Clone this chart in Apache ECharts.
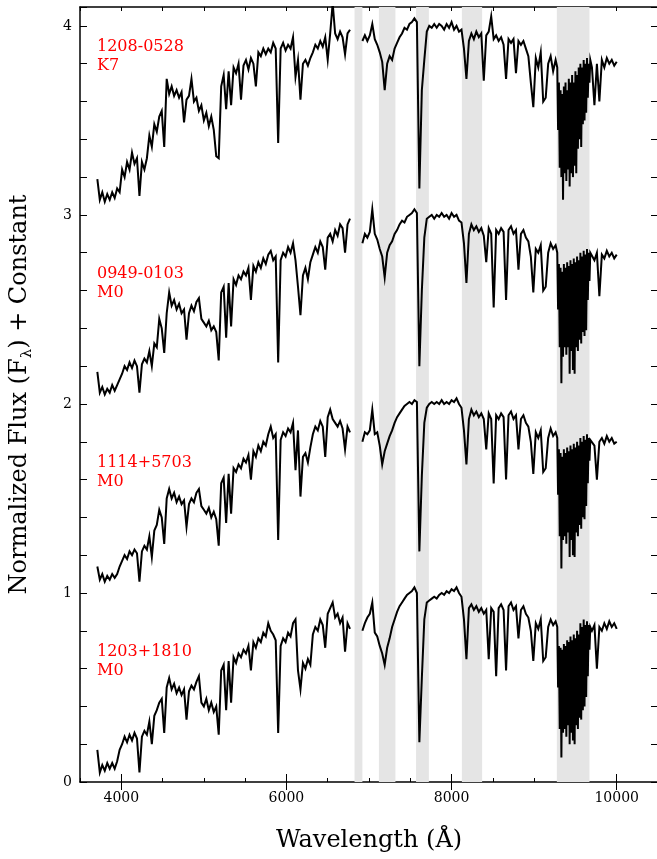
<!DOCTYPE html>
<html>
<head>
<meta charset="utf-8">
<title>Normalized spectra</title>
<script src="https://cdn.jsdelivr.net/npm/echarts@6/dist/echarts.min.js"></script>
<style>
  html, body { margin: 0; padding: 0; background: #fff; overflow: hidden; }
  #chart { width: 657px; height: 859px; }
</style>
</head>
<body>
<div id="chart"></div>
<script>
// wavelength grid (Angstrom), 6840 is the gap between the two arms
const wave = [
  3710, 3740, 3770, 3800, 3830, 3860, 3890, 3920, 3950, 3980,
  4010, 4040, 4070, 4100, 4130, 4160, 4190, 4220, 4250, 4280,
  4310, 4340, 4370, 4400, 4430, 4460, 4490, 4520, 4550, 4580,
  4610, 4640, 4670, 4700, 4730, 4760, 4790, 4820, 4850, 4880,
  4910, 4940, 4970, 5000, 5030, 5060, 5090, 5120, 5150, 5180,
  5210, 5240, 5270, 5300, 5330, 5360, 5390, 5420, 5450, 5480,
  5510, 5540, 5570, 5600, 5630, 5660, 5690, 5720, 5750, 5780,
  5810, 5840, 5870, 5900, 5930, 5960, 5990, 6020, 6050, 6080,
  6110, 6140, 6170, 6200, 6230, 6260, 6290, 6320, 6350, 6380,
  6410, 6440, 6470, 6500, 6530, 6560, 6590, 6620, 6650, 6680,
  6710, 6740, 6770,
  6840,
  6920, 6950, 6980, 7010, 7040, 7070, 7100, 7130, 7160, 7190,
  7220, 7250, 7280, 7310, 7340, 7370, 7400, 7430, 7460, 7490,
  7520, 7550, 7580, 7610, 7640, 7670, 7700, 7730, 7760, 7790,
  7820, 7850, 7880, 7910, 7940, 7970, 8000, 8030, 8060, 8090,
  8120, 8150, 8180, 8210, 8240, 8270, 8300, 8330, 8360, 8390,
  8420, 8450, 8480, 8510, 8540, 8570, 8600, 8630, 8660, 8690,
  8720, 8750, 8780, 8810, 8840, 8870, 8900, 8930, 8960, 8990,
  9020, 9050, 9080, 9110, 9140, 9170, 9200, 9230, 9260,
  9280, 9290, 9300, 9310, 9320, 9330, 9340, 9350, 9360, 9370,
  9380, 9390, 9400, 9410, 9420, 9430, 9440, 9450, 9460, 9470,
  9480, 9490, 9500, 9510, 9520, 9530, 9540, 9550, 9560, 9570,
  9580, 9590, 9600, 9610, 9620, 9630, 9640, 9650, 9660, 9670,
  9680,
  9700, 9730, 9760, 9790, 9820, 9850, 9880, 9910, 9940, 9970, 10000
]

// normalized flux of each star, before the constant is added
const flux1208 = [
  0.19, 0.08, 0.12, 0.07, 0.11, 0.08, 0.12, 0.09, 0.14, 0.12,
  0.24, 0.20, 0.28, 0.24, 0.33, 0.27, 0.30, 0.10, 0.28, 0.24,
  0.30, 0.42, 0.36, 0.48, 0.44, 0.52, 0.55, 0.36, 0.72, 0.64,
  0.68, 0.63, 0.66, 0.62, 0.65, 0.49, 0.61, 0.63, 0.72, 0.60,
  0.62, 0.55, 0.58, 0.50, 0.54, 0.47, 0.52, 0.45, 0.31, 0.30,
  0.68, 0.74, 0.56, 0.76, 0.58, 0.78, 0.75, 0.80, 0.61, 0.79,
  0.82, 0.77, 0.83, 0.80, 0.68, 0.86, 0.84, 0.88, 0.85, 0.88,
  0.86, 0.91, 0.88, 0.38, 0.88, 0.91, 0.87, 0.90, 0.88, 0.94,
  0.73, 0.82, 0.61, 0.80, 0.82, 0.79, 0.83, 0.86, 0.90, 0.88,
  0.92, 0.89, 0.94, 0.82, 0.96, 1.12, 0.96, 0.93, 0.97, 0.94,
  0.85, 0.96, 0.98,
  null,
  0.92, 0.95, 0.92, 0.95, 1.01, 0.93, 0.90, 0.86, 0.81, 0.66,
  0.80, 0.84, 0.82, 0.88, 0.91, 0.94, 0.96, 0.99, 0.98, 1.01,
  1.02, 1.04, 1.02, 0.14, 0.66, 0.82, 0.97, 1.00, 0.99, 1.01,
  0.99, 1.01, 1.00, 0.98, 1.01, 0.99, 1.02, 0.98, 1.00, 0.97,
  0.98, 0.88, 0.72, 0.92, 0.96, 0.93, 0.97, 0.94, 0.96, 0.71,
  0.95, 0.97, 1.05, 0.93, 0.95, 0.92, 0.94, 0.90, 0.72, 0.93,
  0.91, 0.93, 0.75, 0.92, 0.90, 0.92, 0.88, 0.84, 0.70, 0.57,
  0.83, 0.78, 0.86, 0.60, 0.62, 0.80, 0.84, 0.76, 0.82,
  0.78, 0.45, 0.70, 0.25, 0.66, 0.20, 0.64, 0.08, 0.68, 0.22,
  0.70, 0.18, 0.66, 0.24, 0.72, 0.15, 0.70, 0.22, 0.74, 0.20,
  0.70, 0.26, 0.76, 0.22, 0.74, 0.35, 0.78, 0.40, 0.80, 0.36,
  0.78, 0.48, 0.82, 0.50, 0.80, 0.54, 0.83, 0.62, 0.80, 0.70,
  0.82,
  0.78, 0.58, 0.80, 0.60, 0.82, 0.78, 0.83, 0.80, 0.82, 0.79, 0.81
]

const flux0949 = [
  0.17, 0.06, 0.09, 0.05, 0.08, 0.06, 0.10, 0.07, 0.10, 0.13,
  0.16, 0.20, 0.18, 0.22, 0.19, 0.23, 0.20, 0.06, 0.21, 0.24,
  0.22, 0.28, 0.20, 0.32, 0.30, 0.45, 0.40, 0.27, 0.48, 0.59,
  0.52, 0.55, 0.50, 0.53, 0.48, 0.50, 0.34, 0.48, 0.52, 0.49,
  0.54, 0.56, 0.45, 0.43, 0.41, 0.44, 0.39, 0.41, 0.38, 0.23,
  0.59, 0.62, 0.35, 0.64, 0.41, 0.66, 0.63, 0.68, 0.66, 0.70,
  0.68, 0.72, 0.55, 0.73, 0.70, 0.75, 0.72, 0.77, 0.74, 0.79,
  0.81, 0.76, 0.78, 0.22, 0.76, 0.80, 0.78, 0.83, 0.80, 0.85,
  0.76, 0.62, 0.47, 0.68, 0.72, 0.66, 0.75, 0.79, 0.83, 0.80,
  0.86, 0.83, 0.71, 0.88, 0.90, 0.86, 0.92, 0.89, 0.95, 0.93,
  0.80, 0.95, 0.98,
  null,
  0.85, 0.90, 0.88, 0.91, 1.03, 0.90, 0.87, 0.82, 0.78, 0.67,
  0.80, 0.84, 0.86, 0.90, 0.92, 0.95, 0.97, 0.96, 0.99, 1.00,
  1.01, 1.03, 1.01, 0.20, 0.60, 0.88, 0.98, 0.99, 1.00, 0.98,
  1.00, 0.99, 1.01, 0.99, 1.00, 0.98, 1.01, 0.99, 1.00, 0.97,
  0.96, 0.85, 0.64, 0.90, 0.95, 0.92, 0.94, 0.91, 0.93, 0.89,
  0.75, 0.93, 0.90, 0.51, 0.92, 0.90, 0.93, 0.91, 0.55, 0.92,
  0.94, 0.90, 0.92, 0.71, 0.90, 0.92, 0.88, 0.86, 0.78, 0.59,
  0.82, 0.80, 0.84, 0.60, 0.62, 0.80, 0.85, 0.82, 0.84,
  0.80, 0.50, 0.74, 0.30, 0.72, 0.11, 0.70, 0.25, 0.74, 0.30,
  0.72, 0.26, 0.75, 0.30, 0.73, 0.16, 0.76, 0.28, 0.74, 0.18,
  0.77, 0.16, 0.75, 0.30, 0.78, 0.28, 0.76, 0.34, 0.80, 0.32,
  0.78, 0.38, 0.81, 0.36, 0.79, 0.39, 0.82, 0.55, 0.80, 0.65,
  0.80,
  0.79, 0.76, 0.80, 0.57, 0.79, 0.77, 0.81, 0.78, 0.80, 0.77, 0.79
]

const flux1114 = [
  0.14, 0.07, 0.10, 0.06, 0.09, 0.07, 0.10, 0.08, 0.10, 0.14,
  0.17, 0.20, 0.18, 0.22, 0.20, 0.23, 0.21, 0.06, 0.22, 0.25,
  0.23, 0.30, 0.19, 0.33, 0.36, 0.44, 0.40, 0.26, 0.50, 0.55,
  0.50, 0.53, 0.48, 0.51, 0.47, 0.49, 0.35, 0.47, 0.50, 0.48,
  0.53, 0.55, 0.46, 0.44, 0.42, 0.45, 0.40, 0.43, 0.39, 0.25,
  0.58, 0.61, 0.37, 0.63, 0.42, 0.66, 0.64, 0.68, 0.66, 0.71,
  0.69, 0.73, 0.60, 0.75, 0.72, 0.78, 0.75, 0.80, 0.78, 0.84,
  0.88, 0.82, 0.84, 0.28, 0.81, 0.85, 0.83, 0.87, 0.85, 0.90,
  0.65, 0.86, 0.51, 0.72, 0.74, 0.69, 0.77, 0.84, 0.88, 0.86,
  0.91, 0.88, 0.72, 0.93, 0.97, 0.92, 0.90, 0.88, 0.91, 0.87,
  0.76, 0.88, 0.85,
  null,
  0.80, 0.85, 0.84, 0.86, 0.97, 0.84, 0.85, 0.78, 0.68, 0.75,
  0.79, 0.83, 0.86, 0.90, 0.93, 0.95, 0.97, 0.99, 1.00, 1.01,
  1.00, 1.02, 1.01, 0.22, 0.62, 0.90, 0.98, 1.00, 1.01, 1.00,
  1.01, 1.00, 1.02, 1.00, 1.01, 1.00, 1.02, 1.01, 1.03, 1.00,
  0.98, 0.86, 0.68, 0.92, 0.97, 0.94, 0.96, 0.93, 0.95, 0.92,
  0.76, 0.95, 0.92, 0.58, 0.94, 0.92, 0.95, 0.93, 0.60, 0.94,
  0.96, 0.92, 0.94, 0.76, 0.92, 0.94, 0.90, 0.88, 0.80, 0.63,
  0.85, 0.82, 0.86, 0.64, 0.66, 0.82, 0.87, 0.83, 0.85,
  0.82, 0.52, 0.76, 0.30, 0.74, 0.13, 0.72, 0.28, 0.76, 0.30,
  0.74, 0.26, 0.77, 0.32, 0.75, 0.19, 0.78, 0.28, 0.76, 0.20,
  0.79, 0.19, 0.77, 0.32, 0.80, 0.30, 0.78, 0.36, 0.82, 0.34,
  0.80, 0.40, 0.83, 0.39, 0.81, 0.46, 0.84, 0.58, 0.82, 0.70,
  0.81,
  0.80, 0.78, 0.60, 0.80, 0.82, 0.79, 0.83, 0.80, 0.82, 0.79, 0.80
]

const flux1203 = [
  0.17, 0.05, 0.09, 0.06, 0.10, 0.07, 0.10, 0.07, 0.11, 0.17,
  0.20, 0.24, 0.21, 0.25, 0.22, 0.26, 0.23, 0.05, 0.24, 0.27,
  0.25, 0.32, 0.20, 0.35, 0.38, 0.42, 0.44, 0.26, 0.50, 0.55,
  0.49, 0.52, 0.47, 0.50, 0.46, 0.49, 0.33, 0.48, 0.51, 0.49,
  0.53, 0.56, 0.42, 0.40, 0.44, 0.38, 0.42, 0.37, 0.40, 0.25,
  0.59, 0.62, 0.38, 0.64, 0.42, 0.66, 0.63, 0.68, 0.66, 0.70,
  0.68, 0.72, 0.59, 0.74, 0.71, 0.76, 0.74, 0.79, 0.77, 0.84,
  0.80, 0.78, 0.75, 0.26, 0.72, 0.76, 0.74, 0.79, 0.77, 0.84,
  0.86, 0.59, 0.49, 0.63, 0.60, 0.65, 0.62, 0.78, 0.82, 0.80,
  0.86, 0.83, 0.71, 0.89, 0.92, 0.95, 0.87, 0.89, 0.84, 0.87,
  0.69, 0.84, 0.81,
  null,
  0.80, 0.84, 0.87, 0.89, 0.95, 0.79, 0.77, 0.72, 0.68, 0.62,
  0.71, 0.76, 0.82, 0.86, 0.90, 0.93, 0.95, 0.97, 0.99, 1.00,
  1.01, 1.03, 1.00, 0.21, 0.55, 0.86, 0.95, 0.96, 0.97, 0.98,
  0.97, 0.99, 1.00, 0.99, 1.01, 1.00, 1.02, 1.01, 1.03, 1.00,
  0.98, 0.86, 0.65, 0.92, 0.94, 0.91, 0.93, 0.90, 0.92, 0.89,
  0.91, 0.65, 0.92, 0.90, 0.56, 0.92, 0.94, 0.91, 0.59, 0.93,
  0.95, 0.91, 0.93, 0.76, 0.91, 0.93, 0.89, 0.87, 0.80, 0.64,
  0.84, 0.81, 0.86, 0.64, 0.66, 0.82, 0.86, 0.83, 0.85,
  0.82, 0.50, 0.72, 0.28, 0.71, 0.13, 0.70, 0.26, 0.73, 0.28,
  0.72, 0.24, 0.75, 0.30, 0.74, 0.20, 0.77, 0.26, 0.75, 0.22,
  0.78, 0.20, 0.76, 0.30, 0.80, 0.28, 0.78, 0.34, 0.84, 0.33,
  0.82, 0.38, 0.86, 0.40, 0.83, 0.45, 0.85, 0.56, 0.83, 0.70,
  0.82,
  0.80, 0.83, 0.60, 0.82, 0.80, 0.84, 0.81, 0.85, 0.82, 0.84, 0.81
]

const starNames = ['1208-0528', '0949-0103', '1114+5703', '1203+1810']
const spTypes = ['K7', 'M0', 'M0', 'M0']
const offsets = [3, 2, 1, 0]
// telluric bands (Angstrom)
const bandStart = [6825, 7120, 7570, 8125, 9275]
const bandEnd = [6920, 7320, 7725, 8370, 9670]
const majorX = [4000, 6000, 8000, 10000]

const spectra = [flux1208, flux0949, flux1114, flux1203]
const font = 'DejaVu Serif'

function buildData (flux, off) {
  return wave.map(function (w, i) {
    return [w, flux[i] === null ? '-' : +(flux[i] + off).toFixed(3)]
  })
}

function xAxisBase (pos) {
  return {
    type: 'value',
    position: pos,
    min: 3500,
    max: 10500,
    interval: 500,
    axisLine: { show: true, onZero: false, lineStyle: { color: '#000', width: 1.5 } },
    axisTick: { show: true, inside: true, length: 4, lineStyle: { color: '#000' } },
    axisLabel: { show: false },
    splitLine: { show: false }
  }
}

function xAxisMajor (pos) {
  return {
    type: 'value',
    position: pos,
    min: 3500,
    max: 10500,
    axisLine: { show: false },
    axisTick: { show: true, inside: true, length: 8, customValues: majorX, lineStyle: { color: '#000' } },
    axisLabel: { show: false },
    splitLine: { show: false }
  }
}

const bottomAxis = xAxisBase('bottom')
bottomAxis.axisLabel = {
  show: true,
  color: '#000',
  fontFamily: font,
  fontSize: 14,
  margin: 9,
  formatter: function (v) {
    return v % 2000 === 0 ? String(v) : ''
  }
}
bottomAxis.name = 'Wavelength (Å)'
bottomAxis.nameLocation = 'middle'
bottomAxis.nameGap = 47
bottomAxis.nameTextStyle = { color: '#000', fontFamily: font, fontSize: 24 }

function yAxisBase (pos) {
  return {
    type: 'value',
    position: pos,
    min: 0,
    max: 4.1,
    interval: 0.2,
    axisLine: { show: true, onZero: false, lineStyle: { color: '#000', width: 1.5 } },
    axisTick: { show: true, inside: true, length: 7, lineStyle: { color: '#000' } },
    axisLabel: { show: false },
    splitLine: { show: false }
  }
}

const leftAxis = yAxisBase('left')
leftAxis.axisLabel = {
  show: true,
  color: '#000',
  fontFamily: font,
  fontSize: 14,
  margin: 8,
  formatter: function (v) {
    return Math.abs(v - Math.round(v)) < 1e-6 ? String(Math.round(v)) : ''
  }
}
leftAxis.name = 'Normalized Flux (F{sub|λ}) + Constant'
leftAxis.nameLocation = 'middle'
leftAxis.nameGap = 45
leftAxis.nameTextStyle = {
  color: '#000',
  fontFamily: font,
  fontSize: 24,
  lineHeight: 30,
  rich: {
    sub: { fontFamily: font, fontSize: 15, color: '#000', verticalAlign: 'bottom', lineHeight: 15 }
  }
}

const series = spectra.map(function (flux, i) {
  const s = {
    name: starNames[i],
    type: 'line',
    xAxisIndex: 0,
    yAxisIndex: 0,
    data: buildData(flux, offsets[i]),
    showSymbol: false,
    symbol: 'none',
    connectNulls: false,
    animation: false,
    lineStyle: { color: '#000', width: 2, join: 'miter' },
    z: 3
  }
  if (i === 0) {
    s.markArea = {
      silent: true,
      itemStyle: { color: '#e5e5e5' },
      data: bandStart.map(function (b, k) {
        return [{ xAxis: b }, { xAxis: bandEnd[k] }]
      })
    }
  }
  return s
})

const labelTop = [37, 264, 453, 642]
const graphic = starNames.map(function (name, i) {
  return {
    type: 'text',
    x: 97,
    y: labelTop[i],
    z: 10,
    style: {
      text: name + '\n' + spTypes[i],
      fill: '#ff0000',
      font: '16px "DejaVu Serif"',
      lineHeight: 19
    }
  }
})

const chart = echarts.init(document.getElementById('chart'), null, { renderer: 'canvas' })
chart.setOption({
  backgroundColor: '#fff',
  animation: false,
  // the right frame sits just past the picture edge
  grid: { left: 80, top: 7, width: 578, height: 775, containLabel: false, outerBoundsMode: 'none' },
  xAxis: [bottomAxis, xAxisMajor('bottom'), xAxisMajor('top'), xAxisBase('top')],
  yAxis: [leftAxis, yAxisBase('right')],
  series: series,
  graphic: graphic
})
</script>
</body>
</html>
